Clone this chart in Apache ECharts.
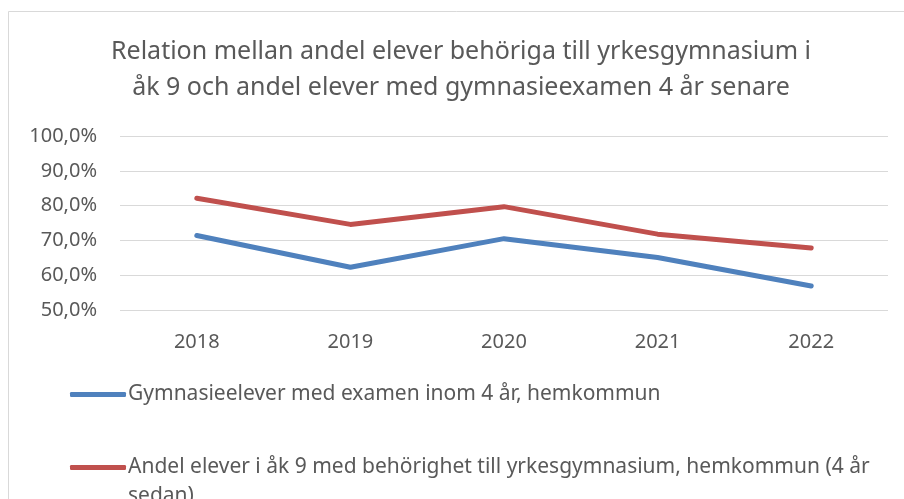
<!DOCTYPE html>
<html>
<head>
<meta charset="utf-8">
<script src="https://cdn.jsdelivr.net/npm/echarts@6/dist/echarts.min.js"></script>
<style>
    html, body { margin: 0; padding: 0; background: #fff; }
    #chart { width: 904px; height: 499px; }
</style>
</head>
<body>
<div id="chart"></div>
<script>
    var years = ['2018', '2019', '2020', '2021', '2022'];
    var examen = [71.4, 62.3, 70.5, 65.1, 56.9];
    var behorighet = [82.1, 74.6, 79.7, 71.8, 67.8];
    var seriesNames = [
        'Gymnasieelever med examen inom 4 år, hemkommun',
        'Andel elever i åk 9 med behörighet till yrkesgymnasium, hemkommun (4 år sedan)'
    ];

    var font = 'Noto Sans';
    var grey = '#595959';
    var legendLine = 29;

    function legendFor(name, top, formatter) {
        return {
            orient: 'vertical',
            left: 70,
            top: top,
            padding: 0,
            itemWidth: 56,
            itemHeight: 5,
            icon: 'roundRect',
            data: [name],
            formatter: formatter,
            textStyle: {
                fontFamily: font,
                fontSize: 21,
                color: grey,
                lineHeight: legendLine,
                padding: [0, 0, 0, -3]
            }
        };
    }

    var option = {
        animation: false,
        backgroundColor: '#fff',
        title: {
            text: 'Relation mellan andel elever behöriga till yrkesgymnasium i\nåk 9 och andel elever med gymnasieexamen 4 år senare',
            left: 461,
            textAlign: 'center',
            top: 34,
            padding: 0,
            textStyle: {
                fontFamily: font,
                fontSize: 25,
                fontWeight: 'normal',
                color: grey,
                lineHeight: 36
            }
        },
        graphic: [{
            type: 'rect',
            shape: { x: 8.5, y: 11.5, width: 1000, height: 600 },
            style: { fill: 'none', stroke: '#d9d9d9', lineWidth: 1 },
            silent: true
        }],
        grid: {
            left: 120,
            right: 16,
            top: 136,
            height: 174,
            containLabel: false
        },
        // one legend per series; the second one wraps and gets an empty first line
        // so that its first text line sits level with the icon (like Excel)
        legend: [
            legendFor(seriesNames[0], 380, '{name}'),
            legendFor(seriesNames[1], 424, function (name) {
                return '\n' + name.replace(' (4 år sedan)', ' (4 år\nsedan)');
            })
        ],
        xAxis: {
            type: 'category',
            data: years,
            boundaryGap: true,
            axisLine: { show: false },
            axisTick: { show: false },
            axisLabel: {
                fontFamily: font,
                fontSize: 20,
                color: grey,
                margin: 22
            }
        },
        yAxis: {
            type: 'value',
            min: 50,
            max: 100,
            interval: 10,
            axisLine: { show: false },
            axisTick: { show: false },
            splitLine: { lineStyle: { color: '#d9d9d9', width: 1 } },
            axisLabel: {
                fontFamily: font,
                fontSize: 20,
                color: grey,
                margin: 23,
                formatter: function (v) {
                    return v.toFixed(1).replace('.', ',') + '%';
                }
            }
        },
        series: [
            {
                name: seriesNames[0],
                type: 'line',
                data: examen,
                symbol: 'none',
                lineStyle: { color: '#4f81bd', width: 5, cap: 'round', join: 'round' },
                itemStyle: { color: '#4f81bd' }
            },
            {
                name: seriesNames[1],
                type: 'line',
                data: behorighet,
                symbol: 'none',
                lineStyle: { color: '#c0504d', width: 5, cap: 'round', join: 'round' },
                itemStyle: { color: '#c0504d' }
            }
        ]
    };

    var myChart = echarts.init(document.getElementById('chart'));
    myChart.setOption(option);
</script>
</body>
</html>
